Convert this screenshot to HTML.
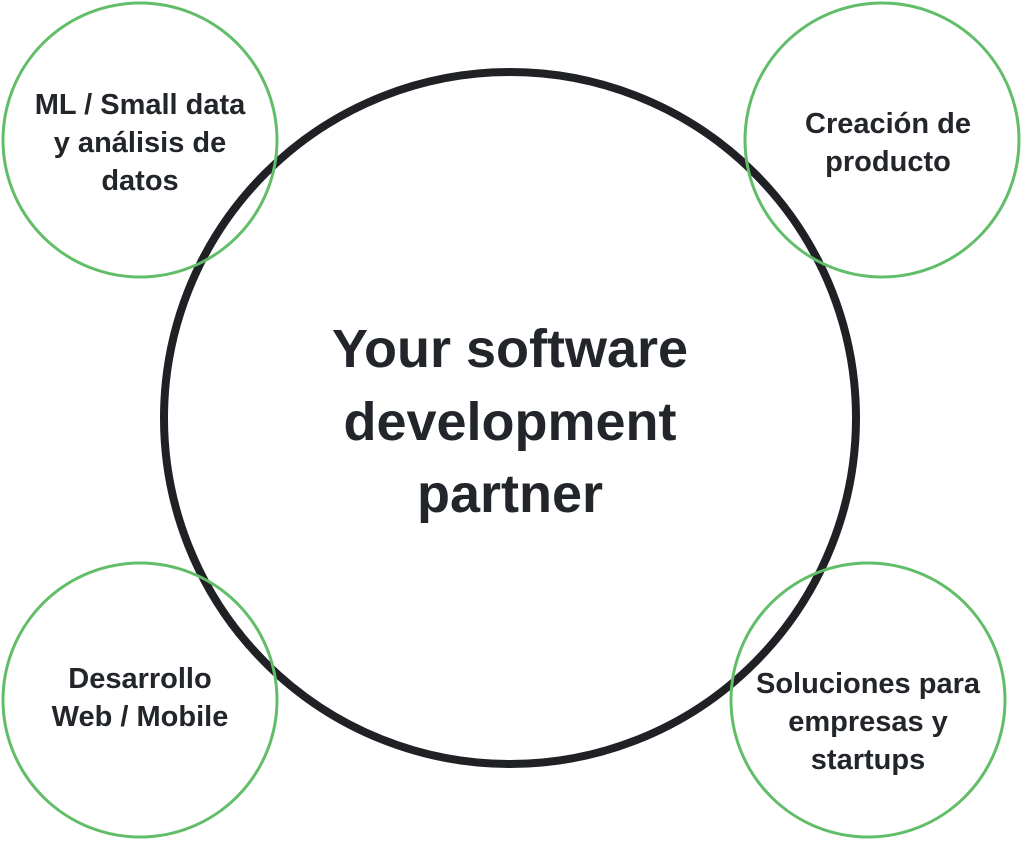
<!DOCTYPE html>
<html><head><style>
body{margin:0;background:#fff;width:1022px;height:840px;overflow:hidden}
svg text{font-family:"Liberation Sans",sans-serif;font-weight:bold;fill:#22252a;text-anchor:middle}
</style></head><body>
<svg width="1022" height="840" viewBox="0 0 1022 840">
<circle cx="510" cy="418" r="346" fill="none" stroke="#1f2125" stroke-width="8"/>
<g fill="none" stroke="#62bd69" stroke-width="3">
<circle cx="140" cy="140" r="137"/>
<circle cx="882" cy="140" r="137"/>
<circle cx="140" cy="700" r="137"/>
<circle cx="868" cy="700" r="137"/>
</g>
<g font-size="54">
<text x="510" y="367">Your software</text>
<text x="510" y="440">development</text>
<text x="510" y="512">partner</text>
</g>
<g font-size="29">
<text x="140" y="114">ML / Small data</text>
<text x="140" y="152">y análisis de</text>
<text x="140" y="190">datos</text>
<text x="888" y="133">Creación de</text>
<text x="888" y="171">producto</text>
<text x="140" y="688">Desarrollo</text>
<text x="140" y="726">Web / Mobile</text>
<text x="868" y="693">Soluciones para</text>
<text x="868" y="731">empresas y</text>
<text x="868" y="769">startups</text>
</g>
</svg>
</body></html>
